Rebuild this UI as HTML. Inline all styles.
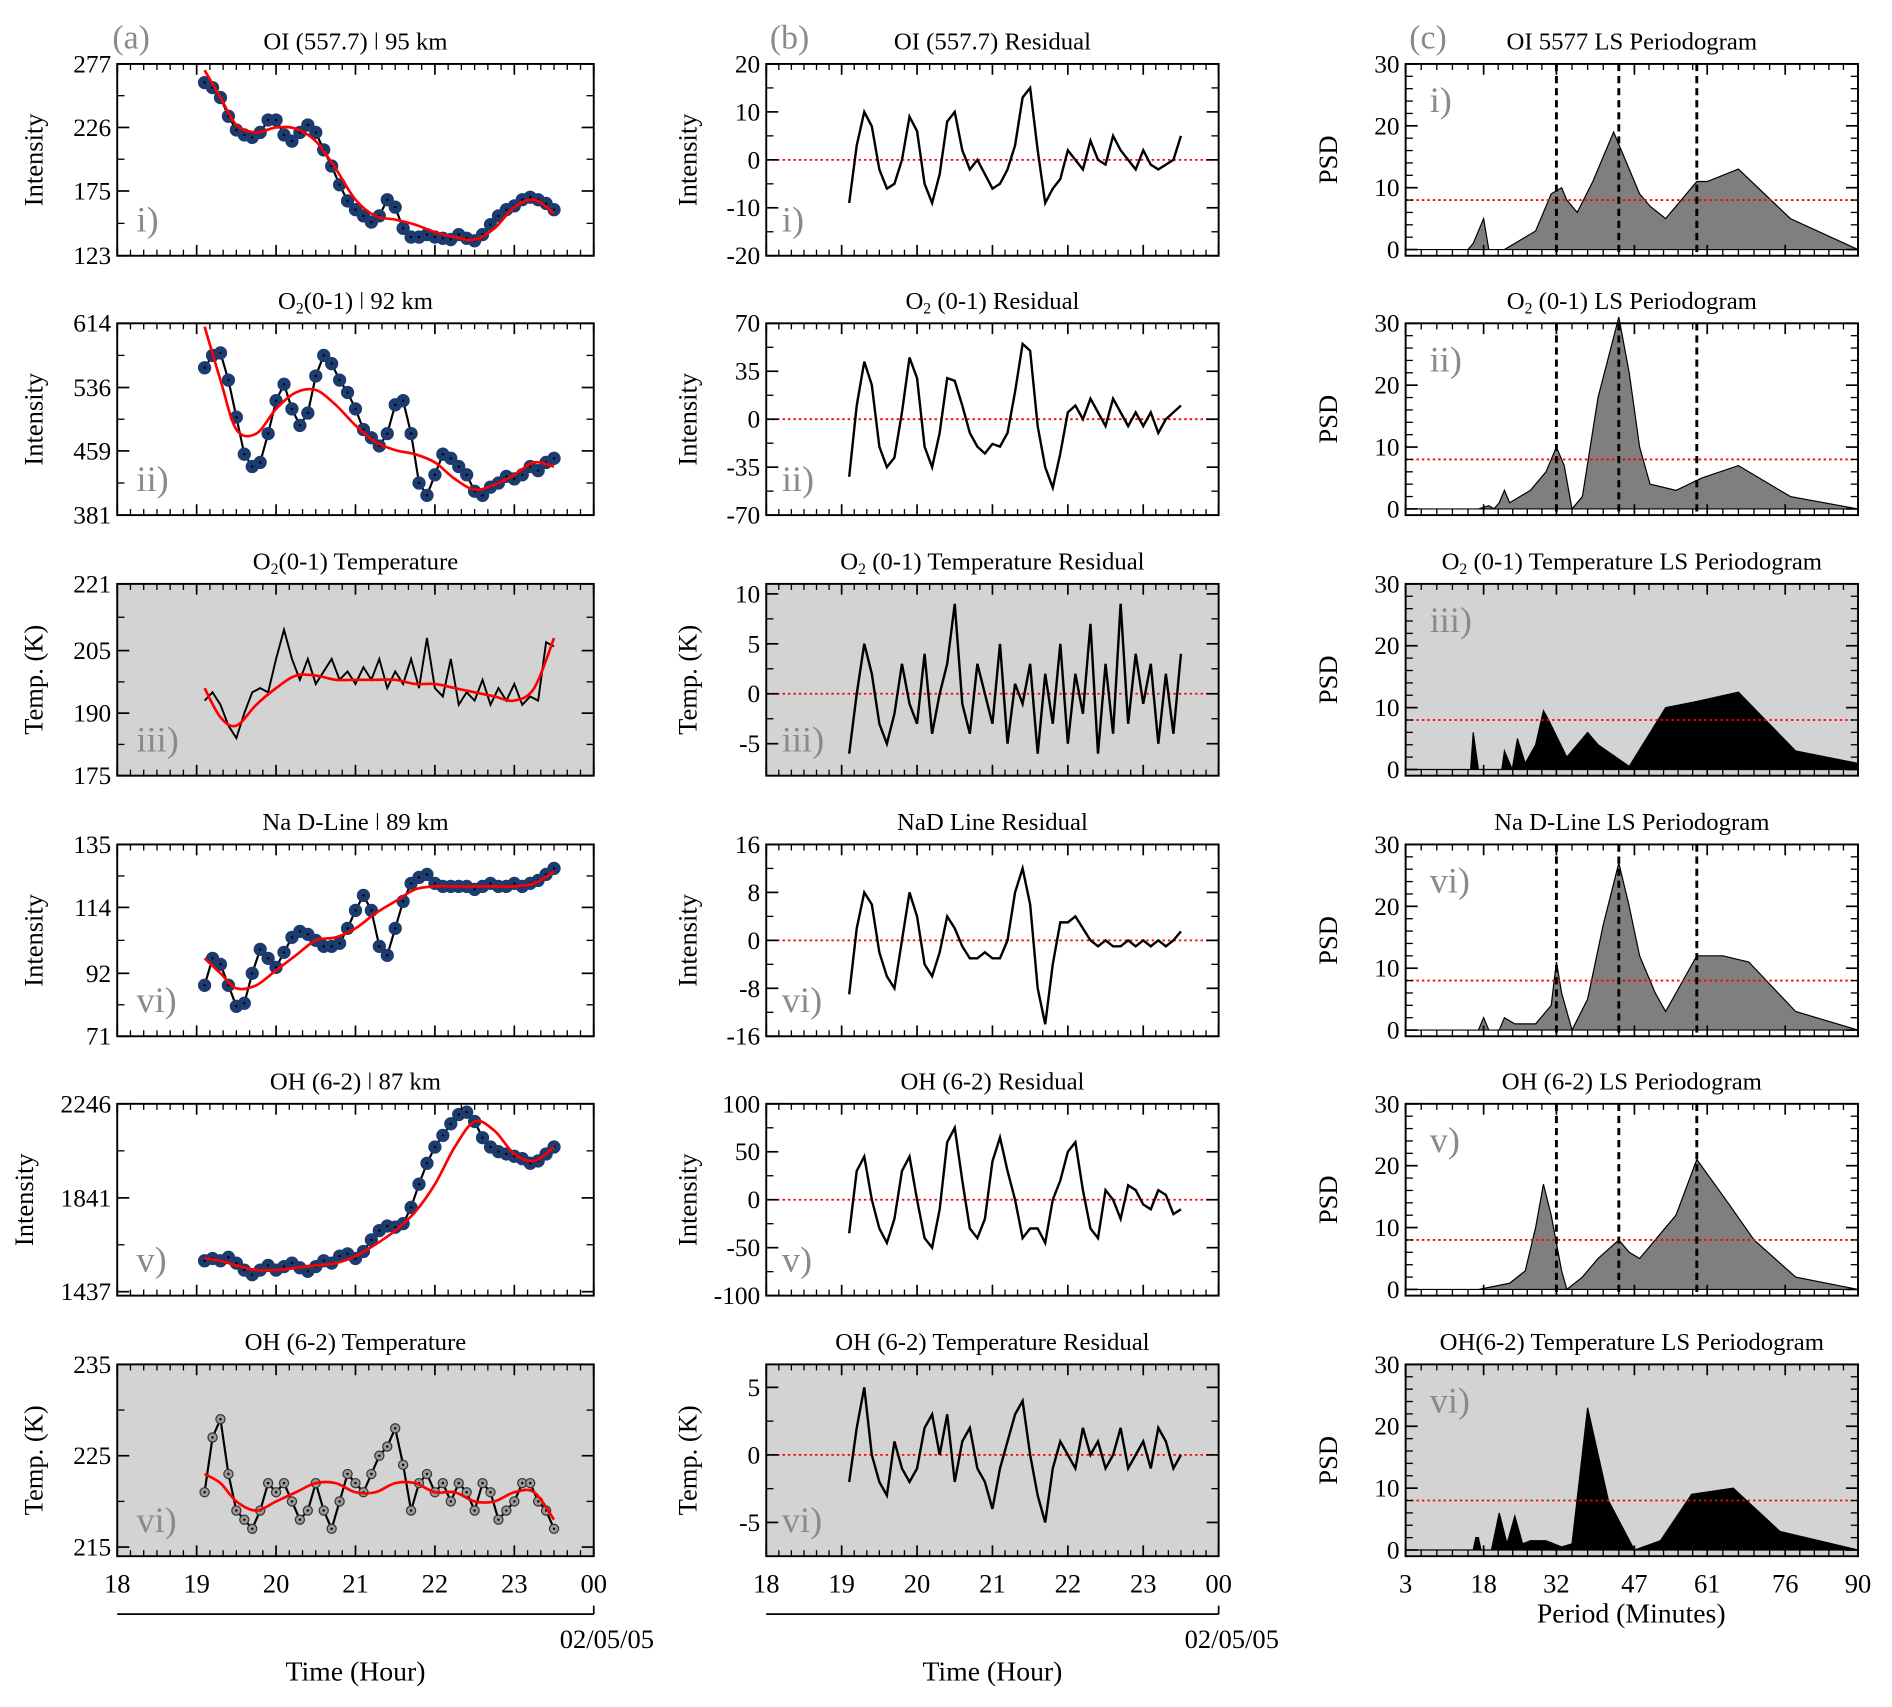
<!DOCTYPE html>
<html><head><meta charset="utf-8">
<style>
html,body{margin:0;padding:0;background:#fff;}
svg{display:block;font-family:"Liberation Serif",serif;}
</style></head>
<body>
<svg id="fig" width="1892" height="1707" viewBox="0 0 1568 1415" xmlns="http://www.w3.org/2000/svg"></svg>
<script>
// ---------- DATA ----------
const times = [19.1,19.2,19.3,19.4,19.5,19.6,19.7,19.8,19.9,20.0,20.1,20.2,20.3,20.4,20.5,20.6,20.7,20.8,20.9,21.0,21.1,21.2,21.3,21.4,21.5,21.6,21.7,21.8,21.9,22.0,22.1,22.2,22.3,22.4,22.5,22.6,22.7,22.8,22.9,23.0,23.1,23.2,23.3,23.4,23.5];
const fitTimes = [19.1,19.3,19.5,19.75,20,20.25,20.5,20.75,21,21.25,21.5,21.75,22,22.25,22.5,22.75,23,23.25,23.5];

const oiIntensity = [262,258,250,235,224,220,218,222,232,232,220,215,222,228,222,208,195,180,167,160,155,150,155,168,162,145,138,138,140,138,137,136,140,137,135,140,148,155,160,163,168,170,168,165,160];
const oiFit = [272,250,228,222,226,225,215,193,168,155,152,148,142,138,136,145,162,168,157];
const o2Intensity = [560,575,578,545,500,455,440,445,480,520,540,510,490,505,550,575,565,545,530,510,485,475,465,480,515,520,480,420,405,430,455,450,440,430,410,405,415,420,428,425,430,440,435,445,450];
const o2Fit = [610,545,485,480,510,530,533,515,490,470,460,455,445,425,412,418,430,445,440];
const o2Temp = [193,195,192,187,184,190,195,196,195,203,210,203,198,203,197,200,203,198,200,197,201,198,203,196,200,197,203,196,208,196,194,203,192,195,193,198,192,196,193,197,192,194,193,207,206];
const o2TempFit = [196,189,187,192,196,199,199,198,198,198,198,197,197,196,195,194,193,196,208];
const naIntensity = [88,97,95,88,81,82,92,100,97,94,99,104,106,105,103,101,101,102,107,113,118,113,101,98,107,116,122,124,125,122,121,121,121,121,120,121,122,121,121,122,121,122,123,125,127];
const naFit = [97,92,87,88,93,98,103,104,107,112,116,120,121,121,121,121,121,122,126];
const ohIntensity = [1570,1580,1570,1585,1560,1530,1510,1530,1550,1530,1545,1560,1540,1525,1545,1570,1560,1590,1600,1580,1610,1660,1700,1720,1715,1730,1800,1900,1990,2060,2110,2160,2200,2210,2170,2100,2060,2040,2030,2020,2010,1990,2000,2030,2060];
const ohFit = [1580,1570,1550,1530,1530,1540,1550,1560,1590,1640,1700,1780,1900,2060,2170,2130,2030,2000,2060];
const ohTemp = [221,227,229,223,219,218,217,219,222,221,222,220,218,219,222,219,217,220,223,222,221,223,225,226,228,224,219,222,223,221,222,220,222,221,219,222,221,218,219,220,222,222,220,219,217];
const ohTempFit = [223,222,220,219,220,221,222,222,221,221,222,222,221,221,220,220,221,221,218];

const oiResid = [-9,3,10,7,-2,-6,-5,0,9,6,-5,-9,-3,8,10,2,-2,0,-3,-6,-5,-2,3,13,15,2,-9,-6,-4,2,0,-2,4,0,-1,5,2,0,-2,2,-1,-2,-1,0,5];
const o2Resid = [-42,10,42,25,-20,-35,-28,5,45,30,-20,-35,-10,30,28,10,-10,-20,-25,-18,-20,-10,20,55,50,-5,-35,-50,-25,5,10,0,15,5,-5,15,5,-5,5,-5,5,-10,0,5,10];
const o2TempResid = [-6,0,5,2,-3,-5,-2,3,-1,-3,4,-4,0,3,9,-1,-4,3,0,-3,5,-5,1,-1,3,-6,2,-3,5,-5,2,-2,7,-6,3,-4,9,-3,4,-1,3,-5,2,-4,4];
const naResid = [-9,2,8,6,-2,-6,-8,0,8,4,-4,-6,-2,4,2,-1,-3,-3,-2,-3,-3,0,8,12,6,-8,-14,-4,3,3,4,2,0,-1,0,-1,-1,0,-1,0,-1,0,-1,0,1.5];
const ohResid = [-35,30,45,0,-30,-45,-20,30,45,0,-40,-50,-10,60,75,20,-30,-40,-20,40,65,30,0,-40,-30,-30,-45,0,20,50,60,10,-30,-40,10,0,-20,15,10,-5,-10,10,5,-15,-10];
const ohTempResid = [-2,2,5,0,-2,-3,1,-1,-2,-1,2,3,0,3,-2,1,2,-1,-2,-4,-1,1,3,4,0,-3,-5,-1,1,0,-1,2,0,1,-1,0,2,-1,0,1,-1,2,1,-1,0];

const p1 = [3,15,16,17.5,18,19,22,24,28,31,33,34,36,39,43,45,48,50,53,57,59,61,67,77,90];
const s1 = [0,0,1,4,5,0,0,1,3,9,10,8,6,11,19,15,9,7,5,9,11,11,13,5,0];
const p2 = [3,17,19,20,21,22,23,27,30,32,33.5,35,37,40,44,46,48,50,55,60,67,77,90];
const s2 = [0,0,0.5,0,1,3,1,3,6,10,7,0,2,18,31,22,10,4,3,5,7,2,0];
const p3 = [3,15.5,16,17,20,21.5,22,23,23.5,24.5,26,28,29.5,30.5,34,38,40,46,53,59,67,78,90];
const s3 = [0,0,6,0,0,0,3,1,0,5,1,4,9.5,8,2,6,4,0.5,10,11,12.5,3,1];
const p4 = [3,17,18,19,21,22,24,28,31,32,33,35,38,41,44,46,48,51,53,57,59,64,69,78,90];
const s4 = [0,0,2,0,0,2,1,1,4,11,6,0,5,17,27,20,12,6,3,9,12,12,11,3,0];
const p5 = [3,17,20,23,26,28,29.5,31,33,34,37,40,44,46,48,55,59,65,70,78,90];
const s5 = [0,0,0.5,1,3,10,17,12,3,0,2,5,8,6,5,12,21,14,8,2,0];
const p6 = [3,16,16.5,17,17.5,19.5,21,22.5,24,25.5,27,30,33,35,38,42,47,52,58,66,75,90];
const s6 = [0,0,2,2,0,0,6,1,5.5,1,1.5,1.5,0.5,1,23,8,0,1.5,9,10,3,0];

// ---------- LAYOUT ----------
const svg = document.getElementById('fig');
const NS = 'http://www.w3.org/2000/svg';
function mk(tag, attrs, parent){ const e=document.createElementNS(NS,tag); for(const k in attrs) e.setAttribute(k,attrs[k]); (parent||svg).appendChild(e); return e; }
const rowTop = [53,268,484,700,915,1131];
const PH = 159;
const colA = [97,492], colB = [635,1010], colC = [1165,1540];
const romans = ['i)','ii)','iii)','vi)','v)','vi)'];

function smoothPath(pts){
  let d = 'M'+pts[0][0]+','+pts[0][1];
  for(let i=0;i<pts.length-1;i++){
    const p0=pts[Math.max(0,i-1)], p1_=pts[i], p2_=pts[i+1], p3_=pts[Math.min(pts.length-1,i+2)];
    const c1x=p1_[0]+(p2_[0]-p0[0])/6, c1y=p1_[1]+(p2_[1]-p0[1])/6;
    const c2x=p2_[0]-(p3_[0]-p1_[0])/6, c2y=p2_[1]-(p3_[1]-p1_[1])/6;
    d+=' C'+c1x+','+c1y+' '+c2x+','+c2y+' '+p2_[0]+','+p2_[1];
  }
  return d;
}

function frame(g, x0, x1, y0, gray){
  const r = mk('rect',{x:x0,y:y0,width:x1-x0,height:PH,fill:gray?'#d3d3d3':'#fff',stroke:'none'},g);
  
  
}
function border(g,x0,x1,y0){
  const r = mk('rect',{x:x0,y:y0,width:x1-x0,height:PH,fill:'none',stroke:'#000','stroke-width':1.6},g);
  
  
}
function xTicks(g,x0,x1,y0,positions,minorPerMajor){
  const y1=y0+PH;
  for(let i=0;i<positions.length;i++){
    const x=positions[i];
    mk('line',{x1:x,x2:x,y1:y1,y2:y1-9,stroke:'#000','stroke-width':1.4},g);
    mk('line',{x1:x,x2:x,y1:y0,y2:y0+9,stroke:'#000','stroke-width':1.4},g);
    if(i<positions.length-1){
      const step=(positions[i+1]-x)/minorPerMajor;
      for(let k=1;k<minorPerMajor;k++){
        const xm=x+k*step;
        mk('line',{x1:xm,x2:xm,y1:y1,y2:y1-5,stroke:'#000','stroke-width':1.1},g);
        mk('line',{x1:xm,x2:xm,y1:y0,y2:y0+5,stroke:'#000','stroke-width':1.1},g);
      }
    }
  }
}
function yAxis(g,x0,x1,y0,ticks,labels,sy,minor){
  for(let i=0;i<ticks.length;i++){
    const y=sy(ticks[i]);
    mk('line',{x1:x0,x2:x0+10,y1:y,y2:y,stroke:'#000','stroke-width':1.4},g);
    mk('line',{x1:x1,x2:x1-10,y1:y,y2:y,stroke:'#000','stroke-width':1.4},g);
    const t=mk('text',{x:x0-5,y:y+7,'text-anchor':'end','font-size':21},g);
    t.textContent=labels[i];
    
    
    if(i<ticks.length-1){
      const step=(ticks[i+1]-ticks[i])/minor;
      for(let k=1;k<minor;k++){
        const ym=sy(ticks[i]+k*step);
        mk('line',{x1:x0,x2:x0+6,y1:ym,y2:ym,stroke:'#000','stroke-width':1.1},g);
        mk('line',{x1:x1,x2:x1-6,y1:ym,y2:ym,stroke:'#000','stroke-width':1.1},g);
      }
    }
  }
}
function title(g,cx,y,parts){
  const t=mk('text',{x:cx,y:y,'text-anchor':'middle','font-size':20.5},g);
  parts.forEach(p=>{
    const s=mk('tspan',p.sub?{'font-size':13,dy:4}:(p.after?{dy:-4}:{}),t);
    s.textContent=p.t;
  });
  
  
}
function yLabel(g,x,cy,txt){
  const t=mk('text',{x:x,y:cy,'text-anchor':'middle','font-size':22,transform:'rotate(-90 '+x+' '+cy+')'},g);
  t.textContent=txt;
  
  
}
function roman(g,x,y,txt){
  const t=mk('text',{x:x,y:y,'font-size':30,fill:'#8a8a8a'},g);
  t.textContent=txt;
  
  
}
function titleParts(s){
  if(s.indexOf('O2')===0) return [{t:'O'},{t:'2',sub:true},{t:s.slice(2),after:true}];
  return [{t:s}];
}

// ---------- COLUMN A ----------
const aSeries=[oiIntensity,o2Intensity,o2Temp,naIntensity,ohIntensity,ohTemp];
const aFits=[oiFit,o2Fit,o2TempFit,naFit,ohFit,ohTempFit];
const aRanges=[[123,277],[381,614],[175,221],[71,135],[1420,2246],[214,235]];
const aTicks=[[123,175,226,277],[381,459,536,614],[175,190,205,221],[71,92,114,135],[1437,1841,2246],[215,225,235]];
const aTitles=['OI (557.7)  ǀ  95 km','O2(0-1)  ǀ  92 km','O2(0-1) Temperature','Na D-Line  ǀ  89 km','OH (6-2)  ǀ  87 km','OH (6-2) Temperature'];
const aStyles=['blue','blue','line','blue','blue','gray'];

// ---------- COLUMN B ----------
const bSeries=[oiResid,o2Resid,o2TempResid,naResid,ohResid,ohTempResid];
const bRanges=[[-20,20],[-70,70],[-8.2,11],[-16,16],[-100,100],[-7.5,6.7]];
const bTicks=[[-20,-10,0,10,20],[-70,-35,0,35,70],[-5,0,5,10],[-16,-8,0,8,16],[-100,-50,0,50,100],[-5,0,5]];
const bTitles=['OI (557.7) Residual','O2 (0-1) Residual','O2 (0-1) Temperature Residual','NaD Line Residual','OH (6-2) Residual','OH (6-2) Temperature Residual'];

// ---------- COLUMN C ----------
const cPeriods=[p1,p2,p3,p4,p5,p6];
const cPsd=[s1,s2,s3,s4,s5,s6];
const cTitles=['OI 5577 LS Periodogram','O2 (0-1) LS Periodogram','O2 (0-1) Temperature LS Periodogram','Na D-Line LS Periodogram','OH (6-2) LS Periodogram','OH(6-2) Temperature LS Periodogram'];
const markedPeriods=[32,44,59];
const threshold=8;
const hourTicks=[18,19,20,21,22,23,24];
const hourLabels=['18','19','20','21','22','23','00'];
const periodTicks=[3,18,32,47,61,76,90];

for(let r=0;r<6;r++){
  const y0=rowTop[r], y1=y0+PH, grayBg=(r===2||r===5);
  {
    const g=mk('g',{});
    
    
    const [xa,xb]=colA;
    const sx=t=>xa+(t-18)/6*(xb-xa);
    const [lo,hi]=aRanges[r];
    const sy=v=>y1-(v-lo)/(hi-lo)*PH;
    frame(g,xa,xb,y0,grayBg);
    const pts=times.map((t,i)=>[sx(t),sy(aSeries[r][i])]);
    const line=mk('polyline',{points:pts.map(p=>p.join(',')).join(' '),fill:'none',stroke:'#000','stroke-width':aStyles[r]==='line'?1.6:1.8},g);
    
    
    if(aStyles[r]!=='line'){
      pts.forEach(p=>{
        const c=mk('circle',{cx:p[0],cy:p[1],r:aStyles[r]==='blue'?5:3.8,fill:aStyles[r]==='blue'?'#1c3b6e':'#9a9a9a',stroke:aStyles[r]==='blue'?'#1c3b6e':'#333','stroke-width':1},g);
        
        
        mk('circle',{cx:p[0],cy:p[1],r:1,fill:'#000'},g);
      });
    }
    const fp=fitTimes.map((t,i)=>[sx(t),sy(aFits[r][i])]);
    const fit=mk('path',{d:smoothPath(fp),fill:'none',stroke:'#ff0000','stroke-width':2.2},g);
    
    
    xTicks(g,xa,xb,y0,hourTicks.map(sx),6);
    yAxis(g,xa,xb,y0,aTicks[r],aTicks[r].map(String),sy,2);
    border(g,xa,xb,y0);
    title(g,(xa+xb)/2,y0-12,titleParts(aTitles[r]));
    yLabel(g,r===4?27:35,(y0+y1)/2,grayBg?'Temp. (K)':'Intensity');
    roman(g,113,y0+139,romans[r]);
  }
  {
    const g=mk('g',{});
    
    
    const [xa,xb]=colB;
    const sx=t=>xa+(t-18)/6*(xb-xa);
    const [lo,hi]=bRanges[r];
    const sy=v=>y1-(v-lo)/(hi-lo)*PH;
    frame(g,xa,xb,y0,grayBg);
    const z=mk('line',{x1:xa,x2:xb,y1:sy(0),y2:sy(0),stroke:'#ff0000','stroke-width':1.5,'stroke-dasharray':'2,2.5'},g);
    
    
    const pts=times.map((t,i)=>sx(t)+','+sy(bSeries[r][i])).join(' ');
    const l=mk('polyline',{points:pts,fill:'none',stroke:'#000','stroke-width':2},g);
    
    
    xTicks(g,xa,xb,y0,hourTicks.map(sx),6);
    yAxis(g,xa,xb,y0,bTicks[r],bTicks[r].map(String),sy,2);
    border(g,xa,xb,y0);
    title(g,(xa+xb)/2,y0-12,titleParts(bTitles[r]));
    yLabel(g,577,(y0+y1)/2,grayBg?'Temp. (K)':'Intensity');
    roman(g,648,y0+139,romans[r]);
  }
  {
    const g=mk('g',{});
    
    
    const [xa,xb]=colC;
    const sx=p=>xa+(p-3)/87*(xb-xa);
    const sy=v=>y1-(v+1)/31*PH;
    frame(g,xa,xb,y0,grayBg);
    const P=cPeriods[r], S=cPsd[r];
    let d='M'+sx(P[0])+','+sy(0);
    for(let i=0;i<P.length;i++) d+=' L'+sx(P[i])+','+sy(S[i]);
    d+=' L'+sx(P[P.length-1])+','+sy(0)+' Z';
    const a=mk('path',{d:d,fill:grayBg?'#000':'#7f7f7f',stroke:'#000','stroke-width':1},g);
    
    
    const th=mk('line',{x1:xa,x2:xb,y1:sy(threshold),y2:sy(threshold),stroke:'#ff0000','stroke-width':1.5,'stroke-dasharray':'2,2.5'},g);
    
    
    if(!grayBg){
      markedPeriods.forEach(p=>{
        const v=mk('line',{x1:sx(p),x2:sx(p),y1:y0,y2:y1,stroke:'#000','stroke-width':2.4,'stroke-dasharray':'6,4'},g);
        
        
      });
    }
    xTicks(g,xa,xb,y0,periodTicks.map(sx),5);
    yAxis(g,xa,xb,y0,[0,10,20,30],['0','10','20','30'],sy,5);
    border(g,xa,xb,y0);
    title(g,(xa+xb)/2,y0-12,titleParts(cTitles[r]));
    yLabel(g,1108,(y0+y1)/2,'PSD');
    roman(g,1185,y0+40,romans[r]);
  }
}

function xLabels(xa,xb,vals,labels,min,max,name){
  const g=mk('g',{});
  
  
  vals.forEach((v,i)=>{
    const t=mk('text',{x:xa+(v-min)/(max-min)*(xb-xa),y:1320,'text-anchor':'middle','font-size':22},g);
    t.textContent=labels[i];
    
    
  });
}
xLabels(97,492,hourTicks,hourLabels,18,24,'time-axis-a');
xLabels(635,1010,hourTicks,hourLabels,18,24,'time-axis-b');
xLabels(1165,1540,periodTicks,periodTicks.map(String),3,90,'period-axis');

[[97,492],[635,1010]].forEach(([xa,xb],i)=>{
  const l=mk('line',{x1:xa,x2:xb,y1:1338,y2:1338,stroke:'#000','stroke-width':1.4});
  
  
  mk('line',{x1:xb,x2:xb,y1:1331,y2:1338,stroke:'#000','stroke-width':1.4});
  const d=mk('text',{x:xb+50,y:1366,'text-anchor':'end','font-size':22});
  d.textContent='02/05/05';
  
  
  const t=mk('text',{x:(xa+xb)/2,y:1393,'text-anchor':'middle','font-size':23});
  t.textContent='Time (Hour)';
  
  
});
const pt=mk('text',{x:1352,y:1345,'text-anchor':'middle','font-size':23});
pt.textContent='Period (Minutes)';



[['(a)',93],['(b)',638],['(c)',1168]].forEach(([s,x])=>{
  const t=mk('text',{x:x,y:40,'font-size':28,fill:'#8a8a8a'});
  t.textContent=s;
  
  
});
</script>
</body></html>
